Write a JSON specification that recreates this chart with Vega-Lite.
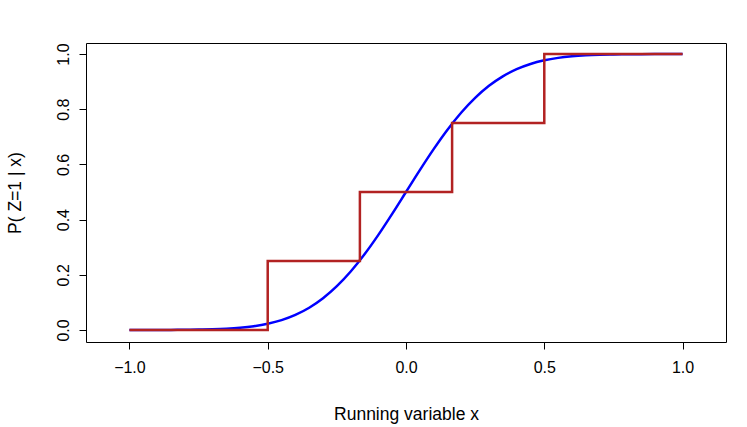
{
  "$schema": "https://vega.github.io/schema/vega-lite/v6.json",
  "width": 640,
  "height": 299,
  "autosize": {"type": "none"},
  "padding": {"left": 86, "top": 43, "right": 21, "bottom": 85},
  "background": "white",
  "config": {
    "view": {"stroke": "black", "strokeWidth": 1},
    "font": "Liberation Sans",
    "axis": {
      "grid": false,
      "domain": false,
      "tickColor": "black",
      "tickSize": 7,
      "labelFont": "Liberation Sans",
      "labelFontSize": 16,
      "labelColor": "black",
      "titleFont": "Liberation Sans",
      "titleFontSize": 17.5,
      "titleFontWeight": "normal",
      "titleColor": "black"
    }
  },
  "datasets": {
    "curve": [
      {"x": -1.0, "p": 0.0000317},
      {"x": -0.95, "p": 0.0000723},
      {"x": -0.9, "p": 0.000159},
      {"x": -0.85, "p": 0.000337},
      {"x": -0.8, "p": 0.000687},
      {"x": -0.75, "p": 0.00135},
      {"x": -0.7, "p": 0.00256},
      {"x": -0.65, "p": 0.00466},
      {"x": -0.6, "p": 0.0082},
      {"x": -0.55, "p": 0.0139},
      {"x": -0.5, "p": 0.0228},
      {"x": -0.45, "p": 0.0359},
      {"x": -0.4, "p": 0.0548},
      {"x": -0.35, "p": 0.0808},
      {"x": -0.3, "p": 0.1151},
      {"x": -0.25, "p": 0.1587},
      {"x": -0.2, "p": 0.2119},
      {"x": -0.15, "p": 0.2743},
      {"x": -0.1, "p": 0.3446},
      {"x": -0.05, "p": 0.4207},
      {"x": 0.0, "p": 0.5},
      {"x": 0.05, "p": 0.5793},
      {"x": 0.1, "p": 0.6554},
      {"x": 0.15, "p": 0.7257},
      {"x": 0.2, "p": 0.7881},
      {"x": 0.25, "p": 0.8413},
      {"x": 0.3, "p": 0.8849},
      {"x": 0.35, "p": 0.9192},
      {"x": 0.4, "p": 0.9452},
      {"x": 0.45, "p": 0.9641},
      {"x": 0.5, "p": 0.9772},
      {"x": 0.55, "p": 0.9861},
      {"x": 0.6, "p": 0.9918},
      {"x": 0.65, "p": 0.99534},
      {"x": 0.7, "p": 0.99744},
      {"x": 0.75, "p": 0.99865},
      {"x": 0.8, "p": 0.999313},
      {"x": 0.85, "p": 0.999663},
      {"x": 0.9, "p": 0.999841},
      {"x": 0.95, "p": 0.999928},
      {"x": 1.0, "p": 0.999968}
    ],
    "steps": [
      {"o": 1, "x": -1.0, "p": 0.0},
      {"o": 2, "x": -0.5, "p": 0.0},
      {"o": 3, "x": -0.5, "p": 0.25},
      {"o": 4, "x": -0.1667, "p": 0.25},
      {"o": 5, "x": -0.1667, "p": 0.5},
      {"o": 6, "x": 0.1667, "p": 0.5},
      {"o": 7, "x": 0.1667, "p": 0.75},
      {"o": 8, "x": 0.5, "p": 0.75},
      {"o": 9, "x": 0.5, "p": 1.0},
      {"o": 10, "x": 1.0, "p": 1.0}
    ]
  },
  "encoding": {
    "x": {
      "field": "x",
      "type": "quantitative",
      "scale": {"domain": [-1.157, 1.157], "nice": false, "zero": false},
      "axis": {
        "values": [-1, -0.5, 0, 0.5, 1],
        "format": ".1f",
        "labelPadding": 10,
        "title": "Running variable x",
        "titlePadding": 30
      }
    },
    "y": {
      "field": "p",
      "type": "quantitative",
      "scale": {"domain": [-0.0435, 1.04], "nice": false, "zero": false},
      "axis": {
        "values": [0, 0.2, 0.4, 0.6, 0.8, 1.0],
        "format": ".1f",
        "labelAngle": -90,
        "labelAlign": "center",
        "labelBaseline": "bottom",
        "labelPadding": 8,
        "title": "P( Z=1 | x)",
        "titlePadding": 31
      }
    }
  },
  "layer": [
    {
      "data": {"name": "curve"},
      "mark": {"type": "line", "color": "#0000FF", "strokeWidth": 2.5, "interpolate": "monotone", "clip": true}
    },
    {
      "data": {"name": "steps"},
      "mark": {"type": "line", "color": "#B22222", "strokeWidth": 2.5, "clip": true},
      "encoding": {"order": {"field": "o", "type": "quantitative"}}
    }
  ]
}
